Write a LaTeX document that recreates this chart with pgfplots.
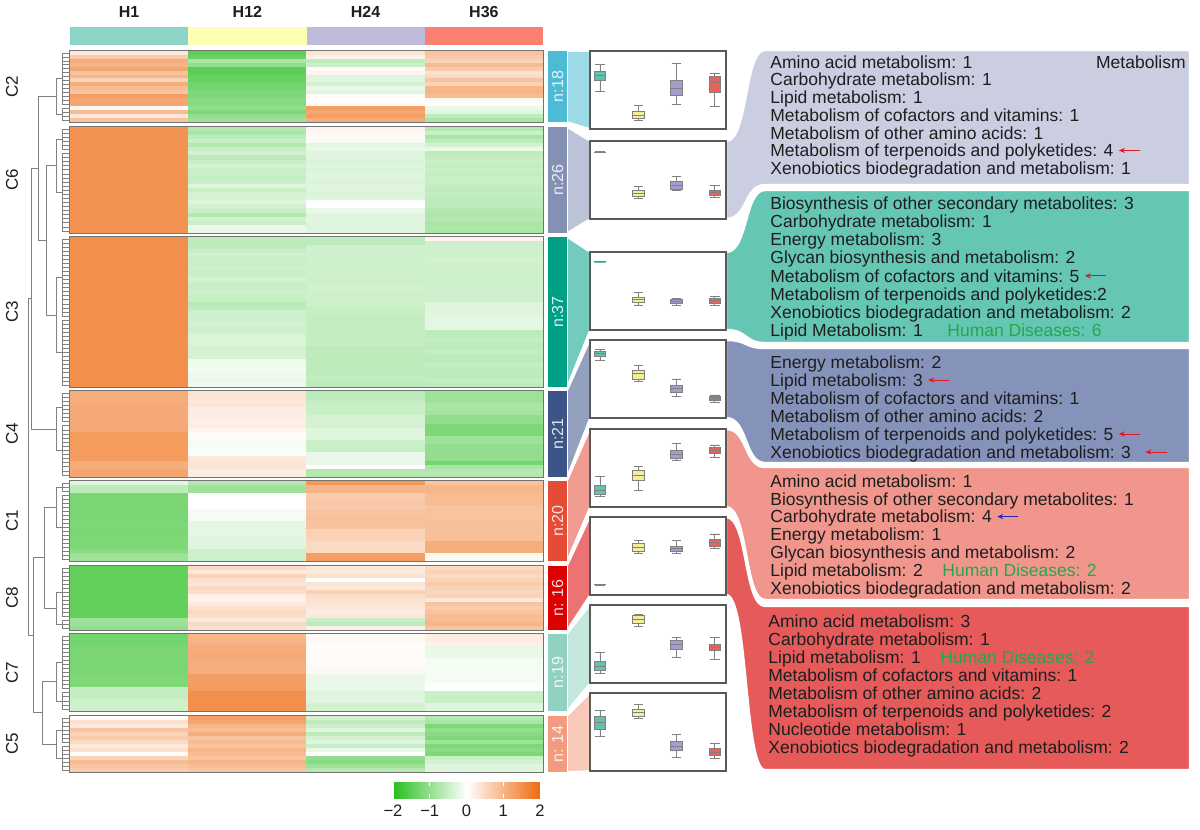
\documentclass[border=0pt]{standalone}
\usepackage{fontspec}
\setmainfont{Liberation Sans}
\setsansfont{Liberation Sans}
\usepackage{pgfplots}
\pgfplotsset{compat=1.18}
\usepgfplotslibrary{statistics}
\usetikzlibrary{arrows.meta}

% header / box colours (Set3)
\definecolor{sHa}{RGB}{141,211,199}
\definecolor{sHb}{RGB}{255,255,179}
\definecolor{sHc}{RGB}{190,186,218}
\definecolor{sHd}{RGB}{251,128,114}
\definecolor{bHa}{RGB}{102,192,174}
\definecolor{bHb}{RGB}{242,240,150}
\definecolor{bHc}{RGB}{163,158,205}
\definecolor{bHd}{RGB}{236,98,88}
% cluster colours (npg)
\definecolor{nA}{HTML}{4DBBD5}
\definecolor{nB}{HTML}{8491B4}
\definecolor{nC}{HTML}{00A087}
\definecolor{nD}{HTML}{3C5488}
\definecolor{nE}{HTML}{E64B35}
\definecolor{nF}{HTML}{DC0000}
\definecolor{nG}{HTML}{91D1C2}
\definecolor{nH}{HTML}{F39B7F}
% category boxes
\definecolor{rA}{RGB}{202,206,224}
\definecolor{rB}{RGB}{102,198,180}
\definecolor{rC}{RGB}{133,146,185}
\definecolor{rD}{RGB}{240,150,140}
\definecolor{rE}{RGB}{230,90,90}
\definecolor{txt}{RGB}{30,30,30}
\definecolor{hdis}{RGB}{40,165,75}
\definecolor{arR}{RGB}{225,25,35}
\definecolor{arB}{RGB}{40,40,170}

% one heatmap cell: a column wide, a row high
\pgfdeclareplotmark{cell}{\pgfpathrectangle{\pgfpoint{-29.6pt}{-1.06pt}}{\pgfpoint{59.2pt}{2.12pt}}\pgfusepathqfill}

\newcommand\tf{\fontsize{8.75}{9}\selectfont}
\tikzset{
  dendro/.style={black!50, line width=0.35pt},
  frame/.style={black!55, line width=0.6pt},
  lbl/.style={anchor=west, inner sep=0pt, text height=6.3pt, text depth=0pt, font=\tf, text=txt},
  clab/.style={rotate=90, font=\fontsize{8.5}{9}\selectfont, text=txt},
  arr/.style={-{Stealth[length=3pt,width=2.6pt]}, line width=0.5pt},
}

% heatmap block: top, row height, table
\newcommand\hm[3]{%
  \addplot[scatter, only marks, mark=cell, point meta=explicit,
    scatter/use mapped color={draw=none, fill=mapped color}]
    table[row sep=\\, meta=c,
      x expr={70+118.25*(mod(\coordindex,4)+0.5)},
      y expr={#1+#2*(floor((\coordindex+0.5)/4)+0.5)}] {#3};}
% dendrogram leaves of one cluster: top, row height, n, split
\newcommand\clus[4]{%
  \pgfplotsinvokeforeach{1,...,#3}{\draw[dendro] (62,{#1+#2*(##1-0.5)}) -- (70,{#1+#2*(##1-0.5)});}
  \draw[dendro] (62,{#1+#2*0.5}) -- (62,{#1+#2*(#4-0.5)});
  \draw[dendro] (62,{#1+#2*(#4+0.5)}) -- (62,{#1+#2*(#3-0.5)});
  \draw[dendro] (62,{#1+#2*#4/2}) -- (56,{#1+#2*#4/2}) -- (56,{#1+#2*(#4+#3)/2}) -- (62,{#1+#2*(#4+#3)/2});}
% cluster bar: colour, top, bottom, label
\newcommand\nbar[4]{%
  \fill[#1] (548,#2) rectangle (567,#3);
  \node[rotate=90, font=\fontsize{8}{9}\selectfont, text=white, text opacity=0.85] at (557.5,{(#2+#3)/2}) {#4};}
% wedge bar -> panel: colour, bar top, bar bottom, panel top, panel bottom
\newcommand\wdg[5]{%
  \filldraw[fill=#1!55!white, draw=white, line width=0.8pt] (567,#2) -- (590,#4) -- (590,#5) -- (567,#3) -- cycle;}
% ribbon panel -> category box: colour, panel top, panel bottom, box top, box bottom
\newcommand\ribbon[5]{%
  \filldraw[fill=#1, draw=white, line width=1.2pt] (726,#2) .. controls (748,#2) and (744,#4) .. (765,#4)
    -- (1190,#4) -- (1190,#5) -- (765,#5) .. controls (744,#5) and (748,#3) .. (726,#3) -- cycle;}
% box plot: position, lw, lq, med, uq, uw, fill
\newcommand\bx[7]{%
  \addplot[boxplot prepared={draw position=#1, lower whisker=#2, lower quartile=#3,
    median=#4, upper quartile=#5, upper whisker=#6, box extend=0.31},
    draw=black!50, fill=#7, line width=0.45pt] coordinates {};}

\pgfplotsset{panel/.style={scale only axis, width=68pt, height=39pt, anchor=north west,
  xmin=0.74, xmax=4.29, ymin=-2, ymax=2, xtick=\empty, ytick=\empty,
  axis background/.style={fill=white}, axis line style={draw=black!65, line width=0.7pt},
  boxplot/draw direction=y, clip=false}}

\begin{document}
\begin{tikzpicture}
\begin{axis}[name=canvas, at={(0,0)}, anchor=south west, scale only axis,
  width=600pt, height=415pt, xmin=0, xmax=1200, ymin=0, ymax=830, y dir=reverse,
  hide axis, clip=false,
  colormap={gwo}{rgb255=(40,190,30) rgb255=(255,255,255) rgb255=(238,106,16)},
  point meta min=-2, point meta max=2,
  colorbar horizontal,
  colorbar style={at={(parent axis.south west)}, anchor=south west, xshift=196.5pt, yshift=24.5pt,
    scale only axis, width=73.5pt, height=8pt,
    xtick={-2,-1,0,1,2}, xticklabels={−2,−1,0,1,2},
    xticklabel style={font=\fontsize{8.3}{9}\selectfont, text=txt},
    axis line style={draw=none}, major tick length=2pt,
    xtick style={white, line width=0.5pt}}]

% category boxes and ribbons
\ribbon{rA}{141}{219}{50}{185}
\ribbon{rB}{252}{330}{190}{343}
\ribbon{rC}{340}{418}{348}{463}
\ribbon{rD}{429}{507}{467}{600}
\ribbon{rE}{517}{595}{606}{770}

% wedges
\wdg{nA}{51}{122}{51}{129}
\wdg{nB}{127}{233}{141}{219}
\wdg{nC}{237}{387}{252}{330}
\wdg{nD}{391}{477}{340}{418}
\wdg{nE}{481}{561}{429}{507}
\wdg{nF}{566}{630}{517}{595}
\wdg{nG}{634}{711}{605}{683}
\wdg{nH}{716}{772}{693}{771}

% cluster bars
\nbar{nA}{51}{122}{n:18}
\nbar{nB}{127}{233}{n:26}
\nbar{nC}{237}{387}{n:37}
\nbar{nD}{391}{477}{n:21}
\nbar{nE}{481}{561}{n:20}
\nbar{nF}{566}{630}{n: 16}
\nbar{nG}{634}{711}{n:19}
\nbar{nH}{716}{772}{n: 14}

% header
\fill[sHa] (70,27) rectangle (188.25,45);
\fill[sHb] (188.25,27) rectangle (306.5,45);
\fill[sHc] (306.5,27) rectangle (424.75,45);
\fill[sHd] (424.75,27) rectangle (543,45);
\node[font=\bfseries\fontsize{8}{9}\selectfont, text=txt] at (129,12) {H1};
\node[font=\bfseries\fontsize{8}{9}\selectfont, text=txt] at (247.4,12) {H12};
\node[font=\bfseries\fontsize{8}{9}\selectfont, text=txt] at (365.6,12) {H24};
\node[font=\bfseries\fontsize{8}{9}\selectfont, text=txt] at (483.9,12) {H36};

% heatmap: columns H1 H12 H24 H36, one row per line
\hm{51}{3.944}{c\\
0.3\\-1.5\\0.35\\0.8\\
0.7\\-1.4\\0.2\\0.7\\
1.1\\-0.8\\-0.6\\0.6\\
1.0\\-1.0\\-0.5\\0.9\\
1.2\\-1.5\\0.05\\0.7\\
0.8\\-1.5\\0.15\\0.4\\
1.0\\-1.4\\-0.3\\0.5\\
0.6\\-1.4\\-0.3\\0.8\\
1.1\\-1.3\\-0.4\\0.6\\
0.9\\-1.3\\-0.2\\1.0\\
0.8\\-1.2\\-0.3\\1.0\\
1.3\\-1.2\\0.05\\0.9\\
1.2\\-1.1\\0.0\\0.1\\
1.2\\-1.1\\0.05\\0.05\\
0.1\\-1.0\\1.3\\-0.2\\
0.9\\-1.2\\1.2\\-0.3\\
0.3\\-1.0\\1.3\\-0.6\\
0.8\\-0.9\\1.1\\-0.8\\}
\hm{127}{4.077}{c\\
1.45\\-0.7\\0.15\\-0.7\\
1.45\\-0.8\\0.1\\-0.5\\
1.45\\-0.6\\0.05\\-0.8\\
1.45\\-0.5\\-0.1\\-0.6\\
1.45\\-0.7\\-0.25\\-0.4\\
1.45\\-0.5\\-0.2\\-0.2\\
1.45\\-0.4\\-0.3\\-0.6\\
1.45\\-0.6\\-0.3\\-0.55\\
1.45\\-0.5\\-0.35\\-0.5\\
1.45\\-0.4\\-0.3\\-0.55\\
1.45\\-0.5\\-0.35\\-0.5\\
1.45\\-0.5\\-0.3\\-0.55\\
1.45\\-0.55\\-0.3\\-0.5\\
1.45\\-0.5\\-0.35\\-0.5\\
1.45\\-0.3\\-0.3\\-0.55\\
1.45\\-0.5\\-0.3\\-0.6\\
1.45\\-0.4\\-0.35\\-0.55\\
1.45\\-0.4\\-0.3\\-0.6\\
1.45\\-0.3\\-0.05\\-0.6\\
1.45\\-0.4\\0.0\\-0.6\\
1.45\\-0.5\\-0.2\\-0.7\\
1.45\\-0.7\\-0.3\\-0.75\\
1.45\\-0.4\\-0.3\\-0.7\\
1.45\\-0.5\\-0.3\\-0.8\\
1.45\\-0.2\\-0.3\\-0.75\\
1.45\\-0.2\\-0.3\\-0.8\\}
\hm{237}{4.054}{c\\
1.5\\-0.6\\-0.6\\0.15\\
1.5\\-0.6\\-0.6\\-0.45\\
1.5\\-0.6\\-0.45\\-0.45\\
1.5\\-0.5\\-0.45\\-0.45\\
1.5\\-0.45\\-0.45\\-0.45\\
1.5\\-0.5\\-0.45\\-0.4\\
1.5\\-0.5\\-0.45\\-0.45\\
1.5\\-0.45\\-0.45\\-0.45\\
1.5\\-0.5\\-0.45\\-0.45\\
1.5\\-0.5\\-0.45\\-0.45\\
1.5\\-0.4\\-0.45\\-0.45\\
1.5\\-0.5\\-0.45\\-0.45\\
1.5\\-0.5\\-0.4\\-0.45\\
1.5\\-0.45\\-0.45\\-0.45\\
1.5\\-0.5\\-0.45\\-0.45\\
1.5\\-0.5\\-0.45\\-0.45\\
1.5\\-0.65\\-0.45\\-0.3\\
1.5\\-0.6\\-0.5\\-0.3\\
1.5\\-0.45\\-0.5\\-0.3\\
1.5\\-0.45\\-0.55\\-0.25\\
1.5\\-0.45\\-0.55\\-0.25\\
1.5\\-0.4\\-0.55\\-0.25\\
1.5\\-0.45\\-0.55\\-0.25\\
1.5\\-0.45\\-0.55\\-0.6\\
1.5\\-0.35\\-0.55\\-0.6\\
1.5\\-0.35\\-0.55\\-0.55\\
1.5\\-0.35\\-0.55\\-0.6\\
1.5\\-0.4\\-0.6\\-0.6\\
1.5\\-0.4\\-0.6\\-0.55\\
1.5\\-0.4\\-0.6\\-0.6\\
1.5\\-0.15\\-0.6\\-0.6\\
1.5\\-0.15\\-0.6\\-0.55\\
1.5\\-0.1\\-0.6\\-0.6\\
1.5\\-0.15\\-0.6\\-0.6\\
1.5\\-0.15\\-0.55\\-0.6\\
1.5\\-0.2\\-0.6\\-0.55\\
1.5\\-0.15\\-0.6\\-0.6\\}
\hm{391}{4.095}{c\\
1.1\\0.35\\-0.6\\-0.9\\
1.1\\0.35\\-0.6\\-0.9\\
1.1\\0.3\\-0.55\\-0.9\\
1.15\\0.35\\-0.5\\-0.8\\
1.15\\0.25\\-0.5\\-0.8\\
1.15\\0.25\\-0.5\\-0.85\\
1.15\\0.25\\-0.4\\-1.0\\
1.15\\0.2\\-0.4\\-1.0\\
1.15\\0.25\\-0.4\\-1.2\\
1.15\\0.15\\-0.3\\-1.2\\
1.35\\0.05\\-0.3\\-1.2\\
1.35\\0.05\\-0.3\\-0.9\\
1.35\\-0.1\\-0.5\\-0.9\\
1.35\\-0.1\\-0.5\\-1.0\\
1.35\\-0.05\\-0.5\\-1.0\\
1.35\\-0.05\\-0.2\\-1.0\\
1.35\\0.3\\-0.2\\-1.0\\
1.1\\0.35\\-0.2\\-1.3\\
1.1\\0.35\\0.0\\-0.8\\
1.2\\0.25\\-0.7\\-0.7\\
1.2\\0.25\\-0.7\\-0.7\\}
\hm{481}{4.0}{c\\
-0.3\\-0.7\\1.4\\0.8\\
-0.6\\-0.9\\1.0\\1.0\\
-0.6\\-0.9\\1.0\\1.0\\
-1.25\\0.0\\0.7\\0.9\\
-1.25\\0.0\\0.7\\0.9\\
-1.25\\0.0\\0.75\\0.9\\
-1.25\\0.0\\0.7\\0.8\\
-1.25\\-0.1\\0.8\\0.8\\
-1.25\\-0.1\\0.8\\0.8\\
-1.25\\-0.1\\0.85\\0.8\\
-1.2\\-0.25\\0.8\\0.85\\
-1.2\\-0.25\\0.8\\0.85\\
-1.25\\-0.25\\0.6\\0.85\\
-1.25\\-0.25\\0.6\\0.85\\
-1.2\\-0.3\\0.6\\0.85\\
-1.2\\-0.3\\0.5\\1.1\\
-1.2\\-0.3\\0.5\\1.1\\
-1.1\\-0.45\\0.5\\1.1\\
-0.9\\-0.45\\1.3\\0.1\\
-0.9\\-0.45\\1.3\\0.1\\}
\hm{566}{4.0}{c\\
-1.45\\0.5\\0.3\\0.5\\
-1.45\\0.3\\0.3\\0.6\\
-1.45\\0.6\\0.4\\0.5\\
-1.45\\0.4\\0.0\\0.6\\
-1.45\\0.35\\0.35\\0.7\\
-1.45\\0.5\\0.3\\0.6\\
-1.45\\0.45\\0.6\\0.55\\
-1.45\\0.2\\0.45\\0.6\\
-1.45\\0.15\\0.4\\0.3\\
-1.45\\0.3\\0.35\\0.8\\
-1.45\\0.4\\0.3\\0.7\\
-1.45\\0.5\\0.25\\0.8\\
-1.45\\0.45\\0.3\\0.9\\
-0.9\\0.3\\-0.5\\0.9\\
-0.9\\0.5\\-0.6\\1.0\\
-1.0\\0.4\\0.2\\0.8\\}
\hm{634}{4.053}{c\\
-1.3\\1.0\\0.1\\0.25\\
-1.3\\1.0\\0.1\\0.25\\
-1.3\\1.05\\0.05\\0.2\\
-1.25\\1.1\\0.05\\-0.2\\
-1.25\\1.1\\0.05\\-0.2\\
-1.25\\1.15\\0.05\\-0.2\\
-1.25\\1.1\\0.05\\-0.1\\
-1.25\\1.1\\0.05\\-0.1\\
-1.25\\1.1\\0.1\\-0.1\\
-1.25\\1.1\\0.1\\-0.1\\
-1.2\\1.3\\-0.2\\-0.1\\
-1.2\\1.3\\-0.2\\-0.1\\
-1.2\\1.3\\-0.2\\0.0\\
-0.55\\1.35\\-0.2\\0.0\\
-0.55\\1.5\\-0.3\\-0.5\\
-0.55\\1.5\\-0.3\\-0.5\\
-0.45\\1.5\\-0.3\\-0.5\\
-0.45\\1.5\\-0.4\\-0.3\\
-0.45\\1.5\\-0.4\\-0.3\\}
\hm{716}{4.0}{c\\
0.05\\1.3\\-0.4\\-0.7\\
0.4\\1.2\\-0.6\\-0.8\\
0.3\\1.0\\-0.5\\-1.2\\
0.8\\0.9\\-0.3\\-1.0\\
0.6\\1.1\\-0.6\\-1.1\\
0.7\\0.8\\-0.4\\-1.2\\
0.5\\0.9\\-0.3\\-0.9\\
0.3\\0.8\\-0.5\\-1.2\\
0.4\\1.0\\-0.2\\-1.1\\
0.05\\0.9\\0.0\\-1.2\\
0.6\\0.8\\-1.0\\-0.5\\
0.9\\1.0\\-1.1\\-0.4\\
0.8\\0.9\\-0.9\\-0.3\\
0.7\\0.8\\-0.7\\-0.3\\}

% block frames
\draw[frame] (70,51) rectangle (543,122);
\draw[frame] (70,127) rectangle (543,233);
\draw[frame] (70,237) rectangle (543,387);
\draw[frame] (70,391) rectangle (543,477);
\draw[frame] (70,481) rectangle (543,561);
\draw[frame] (70,566) rectangle (543,630);
\draw[frame] (70,634) rectangle (543,711);
\draw[frame] (70,716) rectangle (543,772);

% cluster labels
\node[clab] at (12,86.5) {C2};
\node[clab] at (12,180) {C6};
\node[clab] at (12,312) {C3};
\node[clab] at (12,434) {C4};
\node[clab] at (12,521) {C1};
\node[clab] at (12,598) {C8};
\node[clab] at (12,672.5) {C7};
\node[clab] at (12,744) {C5};

% dendrogram
\clus{51}{3.944}{18}{14}
\clus{127}{4.077}{26}{6}
\clus{237}{4.054}{37}{20}
\clus{391}{4.095}{21}{8}
\clus{481}{4.0}{20}{3}
\clus{566}{4.0}{16}{13}
\clus{634}{4.053}{19}{14}
\clus{716}{4.0}{14}{7}
\draw[dendro] (56,165.7) -- (46,165.7) -- (46,315) -- (56,315);
\draw[dendro] (56,96.4) -- (38,96.4) -- (38,240.4) -- (46,240.4);
\draw[dendro] (38,168.4) -- (31,168.4) -- (31,428.9) -- (56,428.9);
\draw[dendro] (56,507) -- (44,507) -- (44,608) -- (56,608);
\draw[dendro] (56,681.6) -- (42,681.6) -- (42,744) -- (56,744);
\draw[dendro] (44,557.5) -- (33,557.5) -- (33,712.8) -- (42,712.8);
\draw[dendro] (31,298.7) -- (28,298.7) -- (28,635.2) -- (33,635.2);

% category texts
\node[lbl] at (770,62) {Amino acid metabolism: 1};
\node[lbl, anchor=east] at (1186,62) {Metabolism};
\node[lbl] at (770,79.7) {Carbohydrate metabolism: 1};
\node[lbl] at (770,97.4) {Lipid metabolism: 1};
\node[lbl] at (770,115.1) {Metabolism of cofactors and vitamins: 1};
\node[lbl] at (770,132.8) {Metabolism of other amino acids: 1};
\node[lbl] (a6) at (770,150.5) {Metabolism of terpenoids and polyketides: 4};
\node[lbl] at (770,168.2) {Xenobiotics biodegradation and metabolism: 1};
\draw[arr, arR] ([xshift=13pt]a6.east) -- ([xshift=2.5pt]a6.east);

\node[lbl] at (770,203) {Biosynthesis of other secondary metabolites: 3};
\node[lbl] at (770,221.2) {Carbohydrate metabolism: 1};
\node[lbl] at (770,239.4) {Energy metabolism: 3};
\node[lbl] at (770,257.6) {Glycan biosynthesis and metabolism: 2};
\node[lbl] (b5) at (770,275.8) {Metabolism of cofactors and vitamins: 5};
\node[lbl] at (770,294) {Metabolism of terpenoids and polyketides:2};
\node[lbl] at (770,312.2) {Xenobiotics biodegradation and metabolism: 2};
\node[lbl] at (770,330.4) {Lipid Metabolism: 1};
\node[lbl, text=hdis] at (947,330.4) {Human Diseases: 6};
\draw[arr, arR] ([xshift=13pt]b5.east) -- ([xshift=2.5pt]b5.east);

\node[lbl] at (770,362) {Energy metabolism: 2};
\node[lbl] (c2) at (770,380) {Lipid metabolism: 3};
\node[lbl] at (770,398) {Metabolism of cofactors and vitamins: 1};
\node[lbl] at (770,416) {Metabolism of other amino acids: 2};
\node[lbl] (c5) at (770,434) {Metabolism of terpenoids and polyketides: 5};
\node[lbl] (c6) at (770,452) {Xenobiotics biodegradation and metabolism: 3};
\draw[arr, arR] ([xshift=13pt]c2.east) -- ([xshift=2.5pt]c2.east);
\draw[arr, arR] ([xshift=13pt]c5.east) -- ([xshift=2.5pt]c5.east);
\draw[arr, arR] ([xshift=18pt]c6.east) -- ([xshift=7pt]c6.east);

\node[lbl] at (770,481) {Amino acid metabolism: 1};
\node[lbl] at (770,498.8) {Biosynthesis of other secondary metabolites: 1};
\node[lbl] (d3) at (770,516.6) {Carbohydrate metabolism: 4};
\node[lbl] at (770,534.4) {Energy metabolism: 1};
\node[lbl] at (770,552.2) {Glycan biosynthesis and metabolism: 2};
\node[lbl] at (770,570) {Lipid metabolism: 2};
\node[lbl, text=hdis] at (942,570) {Human Diseases: 2};
\node[lbl] at (770,587.8) {Xenobiotics biodegradation and metabolism: 2};
\draw[arr, arB] ([xshift=13pt]d3.east) -- ([xshift=2.5pt]d3.east);

\node[lbl] at (768,621) {Amino acid metabolism: 3};
\node[lbl] at (768,639) {Carbohydrate metabolism: 1};
\node[lbl] at (768,657) {Lipid metabolism: 1};
\node[lbl, text=hdis] at (940,657) {Human Diseases: 2};
\node[lbl] at (768,675) {Metabolism of cofactors and vitamins: 1};
\node[lbl] at (768,693) {Metabolism of other amino acids: 2};
\node[lbl] at (768,711) {Metabolism of terpenoids and polyketides: 2};
\node[lbl] at (768,729) {Nucleotide metabolism: 1};
\node[lbl] at (768,747) {Xenobiotics biodegradation and metabolism: 2};
\end{axis}

% box plot panels, one per cluster (H1, H12, H24, H36)
\begin{axis}[panel, at={(295pt,389.5pt)}]
\bx{1}{-0.09}{0.48}{0.77}{0.97}{1.33}{bHa}
\bx{2}{-1.54}{-1.44}{-1.33}{-1.08}{-0.81}{bHb}
\bx{3}{-0.73}{-0.26}{0.09}{0.50}{1.37}{bHc}
\bx{4}{-0.86}{-0.12}{0.37}{0.68}{0.87}{bHd}
\end{axis}
\begin{axis}[panel, at={(295pt,344.5pt)}]
\bx{1}{1.40}{1.41}{1.42}{1.43}{1.44}{bHa}
\bx{2}{-0.97}{-0.82}{-0.68}{-0.53}{-0.31}{bHb}
\bx{3}{-0.56}{-0.46}{-0.29}{-0.09}{0.17}{bHc}
\bx{4}{-0.91}{-0.78}{-0.65}{-0.53}{-0.27}{bHd}
\end{axis}
\begin{axis}[panel, at={(295pt,289pt)}]
\bx{1}{1.48}{1.49}{1.50}{1.51}{1.52}{bHa}
\bx{2}{-0.75}{-0.60}{-0.45}{-0.31}{-0.07}{bHb}
\bx{3}{-0.72}{-0.65}{-0.53}{-0.42}{-0.39}{bHc}
\bx{4}{-0.73}{-0.63}{-0.51}{-0.39}{-0.26}{bHd}
\end{axis}
\begin{axis}[panel, at={(295pt,245pt)}]
\bx{1}{0.94}{1.18}{1.30}{1.40}{1.49}{bHa}
\bx{2}{-0.14}{0.0}{0.26}{0.46}{0.68}{bHb}
\bx{3}{-0.91}{-0.68}{-0.48}{-0.31}{0.0}{bHc}
\bx{4}{-1.18}{-1.11}{-1.01}{-0.91}{-0.82}{bHd}
\end{axis}
\begin{axis}[panel, at={(295pt,200.5pt)}]
\bx{1}{-1.44}{-1.38}{-1.13}{-0.92}{-0.45}{bHa}
\bx{2}{-1.16}{-0.62}{-0.39}{-0.15}{0.07}{bHb}
\bx{3}{0.41}{0.50}{0.68}{0.89}{1.27}{bHc}
\bx{4}{0.55}{0.75}{0.89}{1.04}{1.18}{bHd}
\end{axis}
\begin{axis}[panel, at={(295pt,156.5pt)}]
\bx{1}{-1.49}{-1.48}{-1.47}{-1.46}{-1.45}{bHa}
\bx{2}{0.15}{0.22}{0.43}{0.62}{0.78}{bHb}
\bx{3}{0.15}{0.22}{0.37}{0.51}{0.78}{bHc}
\bx{4}{0.37}{0.51}{0.68}{0.86}{1.13}{bHd}
\end{axis}
\begin{axis}[panel, at={(295pt,112.5pt)}]
\bx{1}{-1.49}{-1.37}{-1.13}{-0.91}{-0.43}{bHa}
\bx{2}{0.92}{1.06}{1.27}{1.44}{1.54}{bHb}
\bx{3}{-0.68}{-0.26}{-0.04}{0.17}{0.32}{bHc}
\bx{4}{-0.79}{-0.34}{-0.17}{0.0}{0.32}{bHd}
\end{axis}
\begin{axis}[panel, at={(295pt,68.5pt)}]
\bx{1}{-0.21}{0.15}{0.50}{0.82}{1.08}{bHa}
\bx{2}{0.70}{0.82}{1.01}{1.16}{1.42}{bHb}
\bx{3}{-1.30}{-0.96}{-0.72}{-0.50}{-0.12}{bHc}
\bx{4}{-1.35}{-1.22}{-1.03}{-0.84}{-0.58}{bHd}
\end{axis}
\pgfresetboundingbox
\useasboundingbox (0,0) rectangle (600pt,415pt);
\end{tikzpicture}
\end{document}
